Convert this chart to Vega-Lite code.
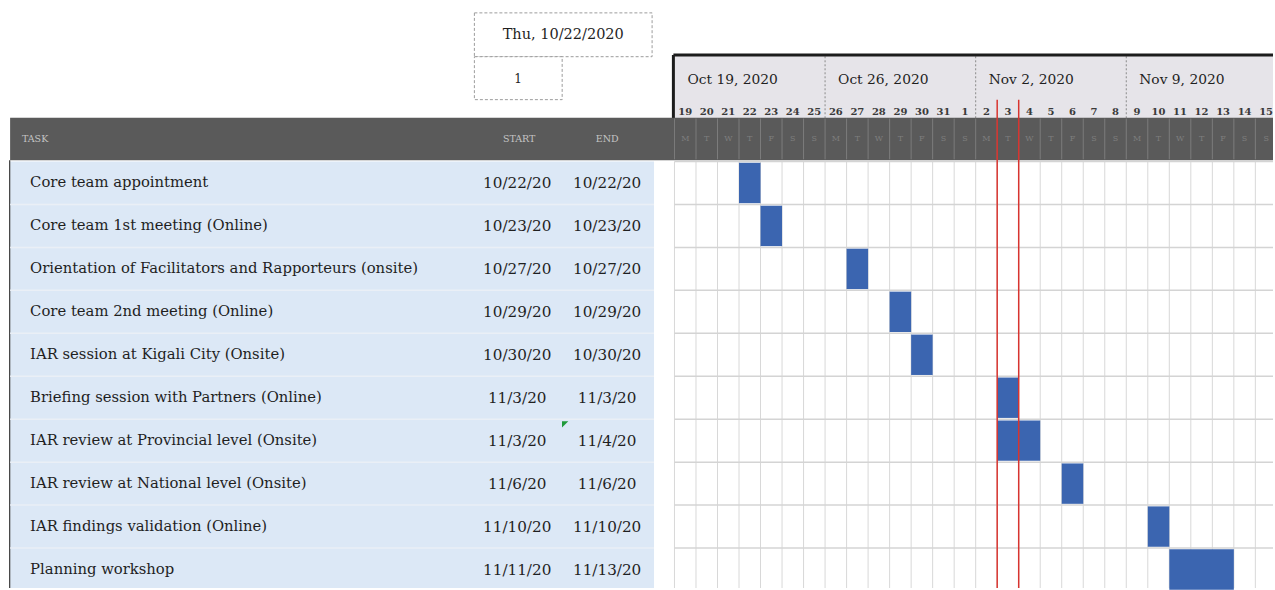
{
  "$schema": "https://vega.github.io/schema/vega-lite/v6.json",
  "width": 1275,
  "height": 590,
  "autosize": {"type": "fit", "contains": "padding"},
  "padding": 0,
  "background": "white",
  "config": {"view": {"stroke": null}, "font": "DejaVu Serif", "axis": {"disable": true}},
  "data": {"values": [{}]},
  "datasets": {
    "tasks": [
      {"order": 0, "task": "Core team appointment", "start": "10/22/20", "end": "10/22/20", "startDay": 3, "endDay": 4},
      {"order": 1, "task": "Core team 1st meeting (Online)", "start": "10/23/20", "end": "10/23/20", "startDay": 4, "endDay": 5},
      {"order": 2, "task": "Orientation of Facilitators and Rapporteurs (onsite)", "start": "10/27/20", "end": "10/27/20", "startDay": 8, "endDay": 9},
      {"order": 3, "task": "Core team 2nd meeting (Online)", "start": "10/29/20", "end": "10/29/20", "startDay": 10, "endDay": 11},
      {"order": 4, "task": "IAR session at Kigali City (Onsite)", "start": "10/30/20", "end": "10/30/20", "startDay": 11, "endDay": 12},
      {"order": 5, "task": "Briefing session with Partners (Online)", "start": "11/3/20", "end": "11/3/20", "startDay": 15, "endDay": 16},
      {"order": 6, "task": "IAR review at Provincial level (Onsite)", "start": "11/3/20", "end": "11/4/20", "startDay": 15, "endDay": 17},
      {"order": 7, "task": "IAR review at National level (Onsite)", "start": "11/6/20", "end": "11/6/20", "startDay": 18, "endDay": 19},
      {"order": 8, "task": "IAR findings validation (Online)", "start": "11/10/20", "end": "11/10/20", "startDay": 22, "endDay": 23},
      {"order": 9, "task": "Planning workshop", "start": "11/11/20", "end": "11/13/20", "startDay": 23, "endDay": 26}
    ],
    "days": [
      {"offset": 0, "day": "19", "weekday": "M"}, {"offset": 1, "day": "20", "weekday": "T"}, {"offset": 2, "day": "21", "weekday": "W"},
      {"offset": 3, "day": "22", "weekday": "T"}, {"offset": 4, "day": "23", "weekday": "F"}, {"offset": 5, "day": "24", "weekday": "S"},
      {"offset": 6, "day": "25", "weekday": "S"}, {"offset": 7, "day": "26", "weekday": "M"}, {"offset": 8, "day": "27", "weekday": "T"},
      {"offset": 9, "day": "28", "weekday": "W"}, {"offset": 10, "day": "29", "weekday": "T"}, {"offset": 11, "day": "30", "weekday": "F"},
      {"offset": 12, "day": "31", "weekday": "S"}, {"offset": 13, "day": "1", "weekday": "S"}, {"offset": 14, "day": "2", "weekday": "M"},
      {"offset": 15, "day": "3", "weekday": "T"}, {"offset": 16, "day": "4", "weekday": "W"}, {"offset": 17, "day": "5", "weekday": "T"},
      {"offset": 18, "day": "6", "weekday": "F"}, {"offset": 19, "day": "7", "weekday": "S"}, {"offset": 20, "day": "8", "weekday": "S"},
      {"offset": 21, "day": "9", "weekday": "M"}, {"offset": 22, "day": "10", "weekday": "T"}, {"offset": 23, "day": "11", "weekday": "W"},
      {"offset": 24, "day": "12", "weekday": "T"}, {"offset": 25, "day": "13", "weekday": "F"}, {"offset": 26, "day": "14", "weekday": "S"},
      {"offset": 27, "day": "15", "weekday": "S"}
    ],
    "weeks": [
      {"offset": 0, "label": "Oct 19, 2020"},
      {"offset": 7, "label": "Oct 26, 2020"},
      {"offset": 14, "label": "Nov 2, 2020"},
      {"offset": 21, "label": "Nov 9, 2020"}
    ],
    "today": [{"edge": 15}, {"edge": 16}],
    "settings": [{"projectStart": "Thu, 10/22/2020", "displayWeek": "1"}]
  },
  "layer": [
    {
      "mark": {"type": "rect", "color": "#e6e4e9"},
      "encoding": {
        "x": {"datum": 0, "type": "quantitative", "scale": {"domain": [-31.35, 27.82], "nice": false, "zero": false}, "axis": null},
        "x2": {"datum": 27.82},
        "y": {"datum": -2.48, "type": "quantitative", "scale": {"domain": [-3.76, 9.93], "reverse": true, "nice": false, "zero": false}, "axis": null},
        "y2": {"datum": -1.0}
      }
    },
    {
      "data": {"name": "weeks"},
      "transform": [{"filter": "datum.offset > 0"}],
      "mark": {"type": "rule", "color": "#8a8a8a", "strokeDash": [2, 2], "strokeWidth": 1},
      "encoding": {
        "x": {"field": "offset", "type": "quantitative"},
        "y": {"datum": -2.45, "type": "quantitative"},
        "y2": {"datum": -1.0}
      }
    },
    {
      "mark": {"type": "rule", "color": "#1c1c1c", "strokeWidth": 3},
      "encoding": {
        "x": {"datum": -0.05, "type": "quantitative"},
        "x2": {"datum": 27.82},
        "y": {"datum": -2.48, "type": "quantitative"}
      }
    },
    {
      "mark": {"type": "rule", "color": "#1c1c1c", "strokeWidth": 3},
      "encoding": {
        "x": {"datum": -0.05, "type": "quantitative"},
        "y": {"datum": -2.48, "type": "quantitative"},
        "y2": {"datum": -1.0}
      }
    },
    {
      "mark": {"type": "rect", "color": "#5a5a5a"},
      "encoding": {
        "x": {"datum": -30.88, "type": "quantitative"},
        "x2": {"datum": 27.82},
        "y": {"datum": -1.02, "type": "quantitative"},
        "y2": {"datum": -0.03}
      }
    },
    {
      "data": {"name": "days"},
      "mark": {"type": "rule", "color": "#7c7c7c", "strokeWidth": 1},
      "encoding": {
        "x": {"field": "offset", "type": "quantitative"},
        "y": {"datum": -1.0, "type": "quantitative"},
        "y2": {"datum": -0.05}
      }
    },
    {
      "data": {"name": "days"},
      "transform": [{"calculate": "datum.offset + 0.5", "as": "mid"}],
      "mark": {"type": "text", "color": "#7e7e7e", "fontSize": 8, "align": "center", "baseline": "middle"},
      "encoding": {
        "x": {"field": "mid", "type": "quantitative"},
        "y": {"datum": -0.52, "type": "quantitative"},
        "text": {"field": "weekday"}
      }
    },
    {
      "mark": {"type": "rect", "color": "#dce8f6"},
      "encoding": {
        "x": {"datum": -30.88, "type": "quantitative"},
        "x2": {"datum": -0.95},
        "y": {"datum": 0, "type": "quantitative"},
        "y2": {"datum": 9.93}
      }
    },
    {
      "mark": {"type": "rule", "color": "#3a3a3a", "strokeWidth": 1.2},
      "encoding": {
        "x": {"datum": -30.9, "type": "quantitative"},
        "y": {"datum": -0.03, "type": "quantitative"},
        "y2": {"datum": 9.93}
      }
    },
    {
      "data": {"name": "tasks"},
      "transform": [{"filter": "datum.order > 0"}],
      "mark": {"type": "rule", "color": "#eaeff6", "strokeWidth": 1.5},
      "encoding": {
        "x": {"datum": -30.88, "type": "quantitative"},
        "x2": {"datum": -0.95},
        "y": {"field": "order", "type": "quantitative"}
      }
    },
    {
      "data": {"name": "days"},
      "mark": {"type": "rule", "color": "#d8d8d8", "strokeWidth": 1},
      "encoding": {
        "x": {"field": "offset", "type": "quantitative"},
        "y": {"datum": 0, "type": "quantitative"},
        "y2": {"datum": 9.93}
      }
    },
    {
      "data": {"name": "tasks"},
      "mark": {"type": "rule", "color": "#d4d4d4", "strokeWidth": 1.5},
      "encoding": {
        "x": {"datum": 0, "type": "quantitative"},
        "x2": {"datum": 27.82},
        "y": {"field": "order", "type": "quantitative"}
      }
    },
    {
      "data": {"name": "tasks"},
      "transform": [
        {"calculate": "datum.order + 0.03", "as": "top"},
        {"calculate": "datum.order + 0.97", "as": "bottom"}
      ],
      "mark": {"type": "rect", "color": "#3b65b0"},
      "encoding": {
        "x": {"field": "startDay", "type": "quantitative"},
        "x2": {"field": "endDay"},
        "y": {"field": "top", "type": "quantitative"},
        "y2": {"field": "bottom"}
      }
    },
    {
      "data": {"name": "today"},
      "mark": {"type": "rule", "color": "#d8342f", "strokeWidth": 1.5},
      "encoding": {
        "x": {"field": "edge", "type": "quantitative"},
        "y": {"datum": -1.44, "type": "quantitative"},
        "y2": {"datum": 9.93}
      }
    },
    {
      "data": {"name": "tasks"},
      "transform": [{"calculate": "datum.order + 0.5", "as": "mid"}],
      "mark": {"type": "text", "align": "left", "baseline": "middle", "fontSize": 14.8, "color": "#1f1f1f"},
      "encoding": {
        "x": {"datum": -29.95, "type": "quantitative"},
        "y": {"field": "mid", "type": "quantitative"},
        "text": {"field": "task"}
      }
    },
    {
      "data": {"name": "tasks"},
      "transform": [{"calculate": "datum.order + 0.5", "as": "mid"}],
      "mark": {"type": "text", "align": "center", "baseline": "middle", "fontSize": 15.2, "color": "#1f1f1f"},
      "encoding": {
        "x": {"datum": -7.31, "type": "quantitative"},
        "y": {"field": "mid", "type": "quantitative"},
        "text": {"field": "start"}
      }
    },
    {
      "data": {"name": "tasks"},
      "transform": [{"calculate": "datum.order + 0.5", "as": "mid"}],
      "mark": {"type": "text", "align": "center", "baseline": "middle", "fontSize": 15.2, "color": "#1f1f1f"},
      "encoding": {
        "x": {"datum": -3.13, "type": "quantitative"},
        "y": {"field": "mid", "type": "quantitative"},
        "text": {"field": "end"}
      }
    },
    {
      "mark": {"type": "text", "align": "left", "baseline": "middle", "fontSize": 9.5, "color": "#c4c4c4", "text": "TASK"},
      "encoding": {
        "x": {"datum": -30.33, "type": "quantitative"},
        "y": {"datum": -0.52, "type": "quantitative"}
      }
    },
    {
      "mark": {"type": "text", "align": "center", "baseline": "middle", "fontSize": 9.5, "color": "#c4c4c4", "text": "START"},
      "encoding": {
        "x": {"datum": -7.22, "type": "quantitative"},
        "y": {"datum": -0.52, "type": "quantitative"}
      }
    },
    {
      "mark": {"type": "text", "align": "center", "baseline": "middle", "fontSize": 9.5, "color": "#c4c4c4", "text": "END"},
      "encoding": {
        "x": {"datum": -3.13, "type": "quantitative"},
        "y": {"datum": -0.52, "type": "quantitative"}
      }
    },
    {
      "data": {"name": "weeks"},
      "mark": {"type": "text", "align": "left", "baseline": "middle", "fontSize": 13.8, "dx": 13, "color": "#1f1f1f"},
      "encoding": {
        "x": {"field": "offset", "type": "quantitative"},
        "y": {"datum": -1.9, "type": "quantitative"},
        "text": {"field": "label"}
      }
    },
    {
      "data": {"name": "days"},
      "transform": [{"calculate": "datum.offset + 0.5", "as": "mid"}],
      "mark": {"type": "text", "align": "center", "baseline": "middle", "fontSize": 10, "fontWeight": "bold", "color": "#3a3a3a"},
      "encoding": {
        "x": {"field": "mid", "type": "quantitative"},
        "y": {"datum": -1.16, "type": "quantitative"},
        "text": {"field": "day"}
      }
    },
    {
      "mark": {"type": "rect", "fill": "white", "stroke": "#9c9c9c", "strokeDash": [3, 2], "strokeWidth": 1},
      "encoding": {
        "x": {"datum": -9.3, "type": "quantitative"},
        "x2": {"datum": -1.04},
        "y": {"datum": -3.46, "type": "quantitative"},
        "y2": {"datum": -2.44}
      }
    },
    {
      "mark": {"type": "rect", "fill": "white", "stroke": "#9c9c9c", "strokeDash": [3, 2], "strokeWidth": 1},
      "encoding": {
        "x": {"datum": -9.3, "type": "quantitative"},
        "x2": {"datum": -5.22},
        "y": {"datum": -2.44, "type": "quantitative"},
        "y2": {"datum": -1.44}
      }
    },
    {
      "data": {"name": "settings"},
      "mark": {"type": "text", "align": "center", "baseline": "middle", "fontSize": 14.5, "color": "#1f1f1f"},
      "encoding": {
        "x": {"datum": -5.17, "type": "quantitative"},
        "y": {"datum": -2.95, "type": "quantitative"},
        "text": {"field": "projectStart"}
      }
    },
    {
      "data": {"name": "settings"},
      "mark": {"type": "text", "align": "center", "baseline": "middle", "fontSize": 12, "color": "#1f1f1f"},
      "encoding": {
        "x": {"datum": -7.27, "type": "quantitative"},
        "y": {"datum": -1.93, "type": "quantitative"},
        "text": {"field": "displayWeek"}
      }
    },
    {
      "mark": {"type": "point", "shape": "M -1 -1 L 1 -1 L -1 1 Z", "filled": true, "color": "#1f9a3a", "size": 40, "opacity": 1},
      "encoding": {
        "x": {"datum": -5.08, "type": "quantitative"},
        "y": {"datum": 6.12, "type": "quantitative"}
      }
    }
  ]
}
